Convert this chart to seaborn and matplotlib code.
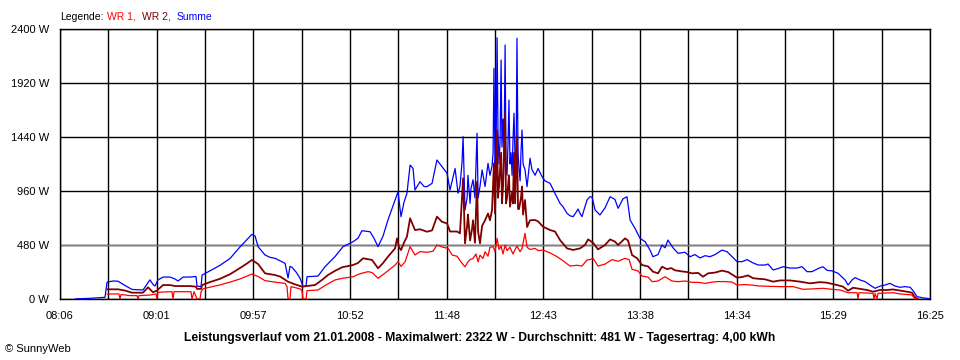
import matplotlib
matplotlib.use('Agg')
import matplotlib.pyplot as plt
import seaborn as sns

# Zeit in Minuten nach Mitternacht, Leistung in W
t_summe = [494.6, 496.3, 503.2, 508.9, 511.8, 513.0, 516.4, 519.3, 523.3, 527.3, 533.6, 537.6, 539.3, 540.5,
           542.2, 545.1, 549.1, 552.0, 553.7, 556.6, 560.6, 564.0, 564.6, 566.9, 567.5, 572.0, 577.8, 583.5,
           589.2, 592.7, 596.1, 597.9, 599.6, 603.6, 606.5, 609.3, 612.2, 615.1, 616.8, 617.9, 619.1, 621.4,
           623.7, 625.4, 627.1, 627.7, 634.0, 638.0, 643.7, 648.3, 654.1, 656.9, 659.2, 663.8, 666.1, 668.4,
           671.3, 674.1, 678.2, 679.9, 680.5, 681.6, 683.3, 685.0, 686.8, 688.5, 689.6, 692.5, 694.8, 696.5,
           699.4, 702.2, 705.1, 708.0, 709.7, 712.6, 714.3, 715.4, 716.6, 717.2, 718.3, 719.5, 720.0, 721.2,
           721.7, 722.9, 724.0, 725.2, 725.8, 726.9, 728.1, 729.8, 731.5, 732.6, 733.8, 734.4, 734.9, 735.5,
           736.1, 736.7, 737.2, 737.8, 738.4, 739.0, 739.5, 740.1, 740.7, 741.3, 741.8, 742.4, 743.0, 743.5,
           744.1, 744.7, 745.3, 745.8, 746.4, 747.0, 747.6, 748.1, 748.7, 749.3, 749.9, 750.4, 751.0, 751.6,
           752.7, 753.9, 755.6, 756.7, 758.5, 760.2, 762.5, 764.2, 767.1, 769.9, 772.8, 774.5, 776.8, 778.5,
           780.3, 782.0, 783.1, 784.3, 785.4, 787.1, 788.3, 790.0, 791.2, 792.9, 795.7, 798.6, 801.5, 804.3,
           806.1, 808.9, 811.2, 813.0, 815.8, 818.7, 821.6, 824.4, 826.1, 829.0, 831.3, 833.0, 834.7, 837.6,
           840.5, 844.5, 847.4, 850.2, 853.1, 856.0, 858.8, 861.7, 865.7, 868.6, 871.5, 874.3, 877.2, 880.1,
           882.9, 886.4, 890.4, 892.1, 895.0, 897.8, 900.7, 904.7, 908.7, 911.6, 914.5, 917.3, 920.8, 923.6,
           925.9, 928.8, 932.3, 936.3, 938.0, 940.3, 942.0, 944.9, 947.7, 950.6, 953.5, 956.4, 959.2, 962.1,
           965.0, 967.8, 970.7, 973.6, 975.3, 977.6, 981.0, 983.9, 985.0]
p_summe = [0, 2, 6, 12, 15, 150, 160, 158, 120, 85, 80, 170, 130, 115,
           170, 195, 195, 178, 160, 195, 195, 200, 115, 110, 213, 250, 300, 360,
           462, 520, 575, 560, 465, 391, 370, 362, 340, 317, 187, 290, 282, 240,
           184, 110, 115, 198, 204, 287, 376, 465, 509, 540, 607, 598, 540, 465,
           560, 702, 880, 954, 870, 732, 860, 939, 1191, 1160, 969, 1043, 1000, 999,
           1028, 1236, 1176, 1117, 969, 1160, 940, 1000, 1220, 1443, 791, 900, 1100, 850,
           980, 1060, 900, 1473, 900, 1000, 1147, 1000, 1206, 1100, 1180, 1300, 2050, 1180,
           1300, 2322, 1500, 1200, 1400, 2124, 1350, 1600, 1300, 2258, 1200, 1100, 1400, 1769,
           1200, 1300, 1100, 1400, 1651, 1250, 1200, 2317, 1300, 1160, 1050, 1300, 1502, 1200,
           1150, 999, 1251, 1150, 1100, 1160, 1087, 1050, 1028, 939, 850, 820, 762, 740,
           732, 770, 800, 760, 732, 821, 880, 910, 905, 791, 747, 810, 909, 885,
           806, 890, 909, 702, 628, 539, 509, 435, 376, 395, 480, 455, 524, 455,
           406, 415, 376, 395, 365, 385, 376, 395, 435, 420, 376, 332, 332, 350,
           325, 302, 302, 311, 258, 270, 287, 275, 275, 287, 243, 243, 270, 287,
           255, 250, 228, 169, 124, 169, 190, 169, 155, 124, 95, 115, 124, 139,
           115, 104, 110, 104, 74, 21, 10, 5, 0]

t_wr2 = [513.0, 519.3, 523.3, 527.3, 533.6, 536.5, 539.3, 541.6, 545.1, 549.1, 552.0, 560.6, 564.0, 564.6,
         566.9, 567.5, 572.0, 577.8, 583.5, 589.2, 592.7, 596.1, 599.6, 603.6, 609.3, 612.2, 616.8, 620.8,
         624.8, 632.3, 636.3, 639.7, 643.7, 647.8, 654.1, 656.9, 659.8, 665.0, 668.4, 671.3, 674.1, 678.2,
         679.3, 680.5, 681.6, 683.3, 685.0, 686.8, 689.6, 692.5, 696.5, 699.4, 702.2, 705.1, 708.0, 709.7,
         713.7, 715.4, 716.6, 717.2, 718.3, 719.5, 720.0, 721.2, 722.3, 722.9, 724.0, 725.2, 725.8, 726.9,
         728.1, 729.8, 731.5, 732.6, 733.8, 734.9, 735.5, 736.7, 737.2, 737.8, 739.0, 739.5, 740.1, 741.3,
         741.8, 742.4, 743.5, 744.1, 745.3, 745.8, 746.4, 747.0, 748.1, 748.7, 749.3, 750.4, 751.0, 751.6,
         752.7, 753.9, 755.6, 758.5, 760.2, 763.0, 767.1, 769.9, 772.8, 776.8, 780.3, 784.3, 787.1, 788.9,
         791.7, 794.6, 798.6, 801.5, 804.3, 806.1, 810.1, 811.8, 814.1, 817.0, 819.8, 823.3, 826.1, 829.0,
         831.3, 834.2, 836.5, 838.8, 842.8, 845.6, 848.5, 852.0, 854.8, 857.7, 861.7, 865.7, 869.2, 874.3,
         877.2, 880.6, 883.5, 886.4, 890.4, 895.0, 899.0, 904.7, 910.5, 916.2, 921.9, 925.9, 931.7, 935.1,
         938.0, 940.9, 944.9, 948.9, 952.3, 956.4, 960.4, 963.8, 967.8, 971.8, 974.7, 976.4, 978.1]
p_wr2 = [86, 86, 75, 56, 56, 104, 60, 75, 124, 124, 115, 115, 110, 90,
         90, 124, 150, 180, 220, 275, 310, 347, 311, 228, 213, 200, 154, 130,
         110, 124, 170, 213, 250, 282, 302, 320, 362, 347, 273, 320, 376, 450,
         539, 460, 435, 500, 555, 717, 613, 620, 598, 610, 732, 686, 672, 600,
         600, 584, 909, 1073, 495, 650, 750, 520, 620, 700, 500, 1043, 600, 495,
         650, 700, 760, 700, 791, 1206, 760, 1500, 900, 1000, 1300, 850, 1000, 1650,
         850, 900, 1100, 820, 950, 850, 1300, 850, 1450, 800, 800, 900, 1000, 750,
         880, 640, 700, 702, 690, 643, 613, 600, 524, 450, 436, 450, 480, 530,
         500, 441, 480, 530, 510, 480, 539, 520, 391, 362, 302, 290, 243, 228,
         287, 265, 275, 255, 245, 240, 228, 232, 198, 228, 235, 252, 240, 190,
         195, 210, 185, 180, 175, 154, 165, 165, 154, 139, 150, 145, 124, 110,
         74, 100, 90, 80, 65, 80, 80, 85, 75, 65, 56, 15, 0]

t_wr1 = [513.0, 515.8, 519.8, 520.4, 521.0, 526.2, 530.2, 530.7, 531.3, 537.6, 541.1, 541.6, 542.2, 550.2,
         550.8, 551.4, 561.1, 561.7, 562.9, 564.6, 566.3, 566.9, 568.0, 572.0, 577.8, 583.5, 589.2, 596.1,
         599.6, 603.6, 609.3, 615.1, 616.2, 616.8, 617.9, 618.5, 623.7, 624.8, 625.4, 627.1, 627.7, 634.0,
         638.0, 643.7, 648.3, 654.1, 658.1, 662.7, 665.0, 668.4, 672.4, 678.2, 679.9, 681.6, 683.9, 686.8,
         689.6, 692.5, 696.5, 700.0, 702.2, 705.7, 708.6, 710.9, 713.7, 716.6, 718.3, 720.0, 721.2, 722.9,
         724.6, 725.8, 726.9, 728.6, 729.8, 731.5, 732.6, 734.4, 735.5, 736.7, 737.8, 739.0, 740.1, 741.3,
         742.4, 744.1, 745.8, 747.0, 748.1, 749.9, 751.0, 752.7, 753.9, 755.6, 758.5, 760.2, 763.0, 767.1,
         771.1, 774.5, 778.5, 782.6, 785.4, 788.3, 790.0, 791.7, 794.6, 798.6, 802.6, 806.1, 810.1, 812.4,
         814.1, 817.5, 819.8, 823.3, 825.6, 829.0, 833.0, 837.0, 840.5, 844.5, 848.5, 852.0, 856.0, 860.0,
         863.4, 867.4, 871.5, 874.3, 878.9, 882.9, 886.4, 893.3, 899.0, 906.4, 912.2, 917.9, 923.6, 928.8,
         933.4, 938.0, 943.2, 943.7, 944.3, 952.3, 952.9, 953.5, 954.6, 955.2, 963.8, 967.8, 974.7, 976.4,
         978.1]
p_wr1 = [42, 45, 45, 0, 40, 30, 30, 0, 30, 35, 45, 0, 60, 65,
         0, 65, 65, 0, 65, 0, 0, 65, 90, 105, 125, 150, 178, 222,
         200, 163, 150, 139, 110, 0, 0, 110, 90, 74, 0, 0, 74, 80,
         120, 169, 185, 198, 225, 243, 235, 184, 230, 302, 332, 290, 330, 465,
         391, 421, 415, 425, 480, 460, 450, 391, 380, 317, 287, 330, 350, 360,
         400, 330, 390, 360, 420, 380, 460, 465, 420, 539, 440, 470, 400, 480,
         430, 460, 400, 440, 470, 420, 450, 584, 460, 440, 450, 430, 435, 410,
         376, 340, 293, 300, 293, 347, 350, 362, 293, 310, 350, 335, 362, 350,
         264, 250, 204, 195, 154, 160, 198, 160, 154, 160, 148, 148, 139, 150,
         155, 155, 150, 124, 128, 124, 116, 113, 110, 110, 86, 90, 95, 86,
         80, 56, 56, 0, 56, 50, 0, 50, 0, 50, 56, 45, 36, 0,
         0]

x_labels = ['08:06', '09:01', '09:57', '10:52', '11:48', '12:43', '13:38', '14:34', '15:29', '16:25']
y_ticks = [0, 480, 960, 1440, 1920, 2400]
y_labels = ['0 W', '480 W', '960 W', '1440 W', '1920 W', '2400 W']
t_start, t_end = 486, 985
durchschnitt = 481

sns.set_style('white')
plt.rcParams['font.family'] = ['Liberation Sans', 'DejaVu Sans']
plt.rcParams['font.size'] = 8

fig = plt.figure(figsize=(9.6, 3.6), dpi=100)
ax = fig.add_axes([60 / 960, 61 / 360, 870 / 960, 270 / 360])

# Gitter: 18 Intervalle, Beschriftung an jeder zweiten Linie
n = 18
x_ticks = [t_start + k * (t_end - t_start) / n for k in range(n + 1)]
ax.set_xticks(x_ticks)
ax.set_xticklabels([x_labels[k // 2] if k % 2 == 0 else '' for k in range(n + 1)])
ax.set_yticks(y_ticks)
ax.set_yticklabels(y_labels)
ax.set_xlim(t_start, t_end)
ax.set_ylim(0, 2400)
ax.grid(True, color='black', linewidth=1.0)
ax.set_axisbelow(True)
ax.axhline(durchschnitt, color='#808080', linewidth=1.0, zorder=1.5)

sns.lineplot(x=t_summe, y=p_summe, ax=ax, color='#0000FF', linewidth=0.9, estimator=None, sort=False, zorder=3)
sns.lineplot(x=t_wr2, y=p_wr2, ax=ax, color='#800000', linewidth=1.3, estimator=None, sort=False, zorder=4)
sns.lineplot(x=t_wr1, y=p_wr1, ax=ax, color='#FF0000', linewidth=0.9, estimator=None, sort=False, zorder=5)
ax.set_xlabel('')
ax.set_ylabel('')

for s in ax.spines.values():
    s.set_color('black')
    s.set_linewidth(1.0)
ax.tick_params(axis='y', length=5, width=0.8, pad=3, labelsize=8, colors='black')
ax.tick_params(axis='x', length=4.3, width=0.8, pad=4, labelsize=8, colors='black')

# Legende oben links
ty = 1 - 16.7 / 360
fig.text(60.5 / 960, ty, 'Legende:', color='black', fontsize=7.5, va='center')
fig.text(107 / 960, ty, 'WR 1,', color='#FF0000', fontsize=7.5, va='center')
fig.text(141.7 / 960, ty, 'WR 2,', color='#800000', fontsize=7.5, va='center')
fig.text(176.7 / 960, ty, 'Summe', color='#0000FF', fontsize=7.5, va='center')

fig.text(480 / 960, 1 - 338 / 360,
         'Leistungsverlauf vom 21.01.2008 - Maximalwert: 2322 W - Durchschnitt: 481 W - Tagesertrag: 4,00 kWh',
         ha='center', va='center', fontsize=8.7, fontweight='bold', color='black')
fig.text(5 / 960, 1 - 348.5 / 360, '© SunnyWeb', fontsize=8, va='center', color='black')

fig.savefig('out.png', dpi=100, facecolor='white')
